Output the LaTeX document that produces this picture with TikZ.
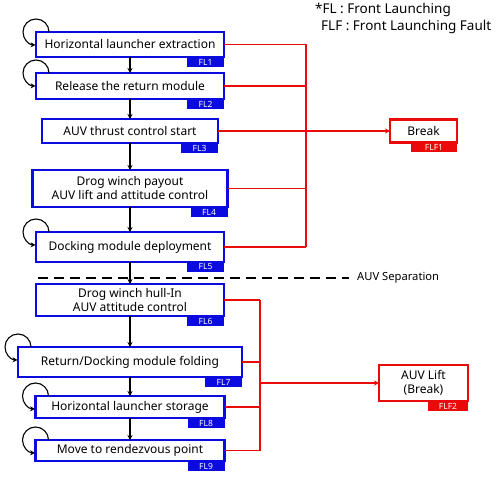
\documentclass[tikz,border=0pt]{standalone}
\usepackage{fontspec}
\setmainfont{Noto Sans}
\usetikzlibrary{arrows.meta}
\definecolor{flblue}{RGB}{10,10,225}
\definecolor{flred}{RGB}{235,10,10}
\begin{document}
\begin{tikzpicture}[x=1pt,y=-1pt,
  flbox/.style={draw=flblue,line width=2.2pt,fill=white,align=center,inner sep=1pt,font=\fontsize{12}{14}\selectfont,outer sep=0pt},
  fltag/.style={fill=flblue,text=white,font=\bfseries\fontsize{8.5}{9}\selectfont,minimum width=37pt,minimum height=10pt,inner sep=0pt,anchor=north east,outer sep=0pt},
  redbox/.style={draw=flred,line width=2.2pt,fill=white,align=center,inner sep=1pt,font=\fontsize{12}{14}\selectfont,outer sep=0pt},
  redtag/.style={fill=flred,text=white,font=\fontsize{8.5}{9}\selectfont,minimum height=10pt,inner sep=0pt,anchor=north east,outer sep=0pt},
  flow/.style={black,line width=1.1pt,-{Stealth[length=5pt,width=5pt]}},
  selfloop/.style={black,line width=1.1pt,-{Stealth[length=5pt,width=5pt]}},
  redline/.style={flred,line width=1.1pt},
  redarrow/.style={flred,line width=1.1pt,-{Stealth[length=5pt,width=5pt]}},
  legend/.style={anchor=west,inner sep=0pt,font=\fontsize{13.5}{15}\selectfont},
  seplabel/.style={anchor=west,inner sep=0pt,font=\fontsize{11.2}{13}\selectfont}
]
\useasboundingbox (0,0) rectangle (501,478);

% main boxes
\node[flbox,minimum width=188pt,minimum height=25pt] (b1) at (130,44.5) {Horizontal launcher extraction};
\node[flbox,minimum width=188pt,minimum height=26pt] (b2) at (130,86) {Release the return module};
\node[flbox,minimum width=176pt,minimum height=24pt] (b3) at (130,131) {AUV thrust control start};
\node[flbox,minimum width=195pt,minimum height=37pt] (b4) at (130,188.5) {Drog winch payout\\AUV lift and attitude control};
\node[flbox,minimum width=188pt,minimum height=30pt] (b5) at (130,247) {Docking module deployment};
\node[flbox,minimum width=188pt,minimum height=32pt] (b6) at (130,300) {Drog winch hull-In\\AUV attitude control};
\node[flbox,minimum width=224pt,minimum height=30pt] (b7) at (130,362) {Return/Docking module folding};
\node[flbox,minimum width=189pt,minimum height=22pt] (b8) at (130,407) {Horizontal launcher storage};
\node[flbox,minimum width=189pt,minimum height=21pt] (b9) at (130,450.5) {Move to rendezvous point};

% tags
\node[fltag] (t1) at (b1.south east) {FL1};
\node[fltag] (t2) at (b2.south east) {FL2};
\node[fltag] (t3) at (b3.south east) {FL3};
\node[fltag] (t4) at (b4.south east) {FL4};
\node[fltag] (t5) at (b5.south east) {FL5};
\node[fltag] (t6) at (b6.south east) {FL6};
\node[fltag] (t7) at (b7.south east) {FL7};
\node[fltag] (t8) at (b8.south east) {FL8};
\node[fltag] (t9) at (b9.south east) {FL9};

% fault boxes
\node[redbox,minimum width=67pt,minimum height=23pt] (brk) at (423.5,131) {Break};
\node[redtag,minimum width=46pt] (tf1) at (brk.south east) {FLF1};
\node[redbox,minimum width=89pt,minimum height=36pt] (lift) at (423.5,383) {AUV Lift\\(Break)};
\node[redtag,minimum width=40pt] (tf2) at (lift.south east) {FLF2};

% vertical flow
\draw[flow] (b1.south) -- (b2.north);
\draw[flow] (b2.south) -- (b3.north);
\draw[flow] (b3.south) -- (b4.north);
\draw[flow] (b4.south) -- (b5.north);
\draw[flow] (b5.south) -- (b6.north);
\draw[flow] (b6.south) -- (b7.north);
\draw[flow] (b7.south) -- (b8.north);
\draw[flow] (b8.south) -- (b9.north);

% self loops
\foreach \b in {b1,b2,b5,b7,b8,b9}{
  \draw[selfloop] ([xshift=13pt]\b.north west) arc[start angle=0,end angle=268,radius=13pt];
}

% separation line
\coordinate (sepA) at (38,278);
\coordinate (sepB) at (349,278);
\draw[black,line width=2.4pt,dash pattern=on 10pt off 6pt] (sepA) -- (sepB);
\node[seplabel] (sep) at (357,278) {AUV Separation};

% legend
\node[legend] (lg1) at (315,10) {*FL : Front Launching};
\node[legend] (lg2) at (321,27) {FLF : Front Launching Fault};

% red bus 1
\coordinate (busA) at (306,0);
\draw[redline] (b1.east) -- (b1.east -| busA);
\draw[redline] (b2.east) -- (b2.east -| busA);
\draw[redline] (b4.east) -- (b4.east -| busA);
\draw[redline] (b5.east) -- (b5.east -| busA);
\draw[redline] (b1.east -| busA) -- (b5.east -| busA);
\draw[redarrow] (b3.east) -- (brk.west);

% red bus 2
\coordinate (busB) at (260,0);
\draw[redline] (b6.east) -- (b6.east -| busB);
\draw[redline] (b7.east) -- (b7.east -| busB);
\draw[redline] (b8.east) -- (b8.east -| busB);
\draw[redline] (b9.east) -- (b9.east -| busB);
\draw[redline] (b6.east -| busB) -- (b9.east -| busB);
\draw[redarrow] (lift.west -| busB) -- (lift.west);
\end{tikzpicture}
\end{document}
